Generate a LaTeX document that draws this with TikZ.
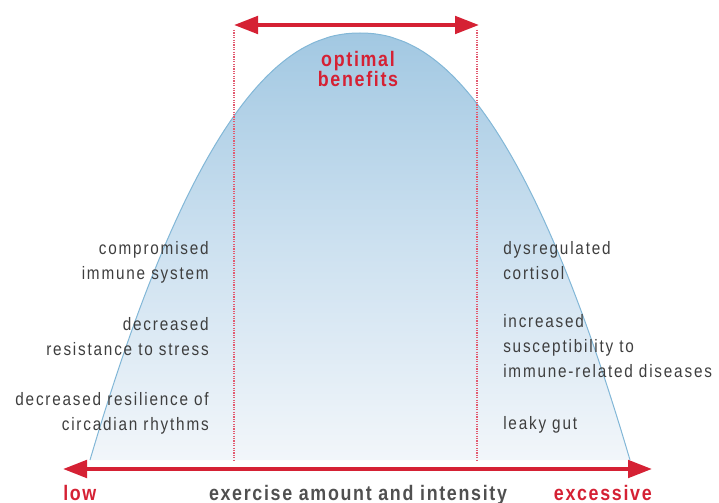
\documentclass[tikz,border=0pt]{standalone}
\usepackage{fontspec}
\setmainfont{Liberation Sans}[FakeStretch=0.85,LetterSpace=10]
\newfontfamily\boldf{Liberation Sans}[FakeStretch=0.85,LetterSpace=8]
\usetikzlibrary{arrows.meta}
\definecolor{redc}{RGB}{213,33,52}
\definecolor{txt}{RGB}{62,62,62}
\definecolor{txtb}{RGB}{80,80,80}
\definecolor{topb}{RGB}{162,200,226}
\definecolor{midb}{RGB}{205,225,240}
\definecolor{botb}{RGB}{242,246,250}
\definecolor{edgeb}{RGB}{130,183,215}
\definecolor{dotc}{RGB}{226,90,112}
\begin{document}
\begin{tikzpicture}[x=0.75pt,y=-0.75pt,
  lab/.style={inner sep=0pt, text=txt, font=\fontsize{13.5}{18.75}\selectfont},
  boldlab/.style={inner sep=0pt, font=\boldf\bfseries\fontsize{15.75}{15}\selectfont},
  redarrow/.style={draw=redc, line width=3pt, {Triangle[length=18pt,width=13pt]}-{Triangle[length=18pt,width=13pt]}},
  dotline/.style={draw=dotc, line width=0.9pt, dash pattern=on 0.9pt off 0.9pt}]
\useasboundingbox (0,0) rectangle (719,503);
% bell curve
\shade[top color=topb, bottom color=botb, middle color=midb] plot[domain=90:630, samples=121] (\x, {33+427*pow(abs(\x-360)/270,2.15)}) -- cycle;
\draw[edgeb, line width=0.75pt] plot[domain=90:630, samples=121] (\x, {33+427*pow(abs(\x-360)/270,2.15)});
% coordinates
\coordinate (tl) at (234,25);
\coordinate (tr) at (479,25);
\coordinate (dl) at (234,460);
\coordinate (dr) at (477,460);
\coordinate (dlt) at (234,30);
\coordinate (drt) at (477,30);
\coordinate (bl) at (63,469);
\coordinate (br) at (652,469);
% dotted lines
\draw[dotline] (dlt) -- (dl);
\draw[dotline] (drt) -- (dr);
% arrows
\draw[redarrow] (tl) -- (tr);
\draw[redarrow] (bl) -- (br);
% labels
\node[boldlab, text=redc, anchor=base, align=center] (opt) at (358,87) {optimal\\benefits};
\node[lab, anchor=base east, align=right] (l1) at (209,280) {compromised\\immune system};
\node[lab, anchor=base east, align=right] (l2) at (209,355) {decreased\\resistance to stress};
\node[lab, anchor=base east, align=right] (l3) at (209,430) {decreased resilience of\\circadian rhythms};
\node[lab, anchor=base west, align=left] (r1) at (503,280) {dysregulated\\cortisol};
\node[lab, anchor=base west, align=left] (r2) at (503,378) {increased\\susceptibility to\\immune-related diseases};
\node[lab, anchor=base west, align=left] (r3) at (503,429) {leaky gut};
\node[boldlab, text=redc, anchor=base west] (low) at (63,500) {low};
\node[boldlab, text=redc, anchor=base east] (exc) at (652,500) {excessive};
\node[boldlab, text=txtb, anchor=base] (axis) at (358,500) {exercise amount and intensity};
\end{tikzpicture}
\end{document}
